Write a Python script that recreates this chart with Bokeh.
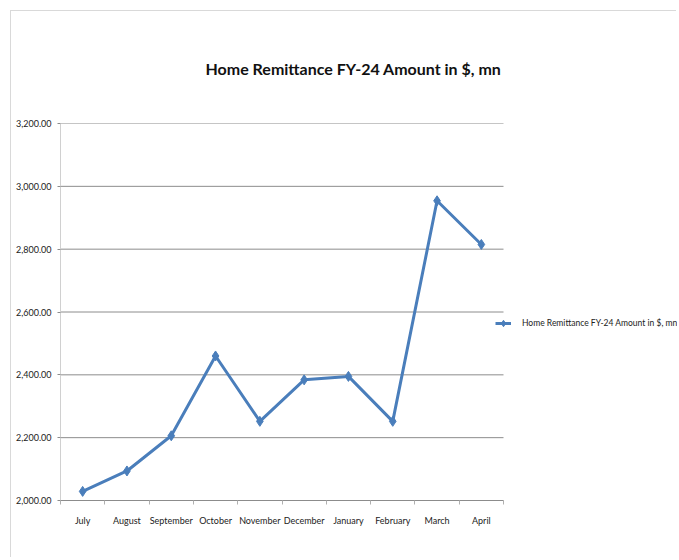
from bokeh.plotting import figure
from bokeh.models import (FixedTicker, NumeralTickFormatter, Range1d, Legend, LegendItem,
                          ColumnDataSource)
from bokeh.embed import file_html
from bokeh.resources import INLINE
import numpy as np

months = ["July", "August", "September", "October", "November", "December",
          "January", "February", "March", "April"]
amounts = [2029, 2094, 2206, 2460, 2252, 2384, 2395, 2252, 2954, 2815]
y_ticks = [2000, 2200, 2400, 2600, 2800, 3000, 3200]
series_name = "Home Remittance FY-24 Amount in $, mn"
title_text = "Home Remittance FY-24 Amount in $, mn"

FONT = "Lato"
n = len(months)
# plot area spans the categories plus room on the right for the legend
x_end = n * 617 / 443

xpos = np.arange(n) + 0.5
src = ColumnDataSource(dict(x=xpos, y=amounts, m=months))

p = figure(width=666, height=547, output_backend="svg", toolbar_location=None,
           x_range=Range1d(0, x_end), y_range=Range1d(y_ticks[0], y_ticks[-1]),
           min_border_left=49, min_border_right=0, min_border_top=111, min_border_bottom=58)
p.margin = (10, 0, 0, 10)
p.styles = {"border-top": "1px solid #d9d9d9", "border-left": "1px solid #d9d9d9"}
p.outline_line_color = None
p.background_fill_color = "white"
p.border_fill_color = "white"

p.title.text = title_text
p.title.text_font = FONT
p.title.text_font_size = "16px"
p.title.text_font_style = "bold"
p.title.text_color = "#111111"
p.title.align = "left"
p.title.offset = 145
p.title.standoff = 91

# gridlines limited to the category area
p.ygrid.grid_line_color = None
p.xgrid.grid_line_color = None
p.segment(x0=0, x1=n, y0=y_ticks, y1=y_ticks, line_color="#8c8c8c", line_width=1)

# x axis
p.xaxis.bounds = (0, n)
p.xaxis.ticker = FixedTicker(ticks=list(xpos), minor_ticks=list(range(n + 1)))
p.xaxis.major_label_overrides = {float(x): m for x, m in zip(xpos, months)}
p.xaxis.major_tick_line_color = None
p.xaxis.minor_tick_in = 0
p.xaxis.minor_tick_out = 4
p.xaxis.minor_tick_line_color = "#b0b0b0"
p.xaxis.axis_line_color = "#8c8c8c"
p.xaxis.major_label_text_font = FONT
p.xaxis.major_label_text_font_size = "9px"
p.xaxis.major_label_text_color = "#222222"
p.xaxis.major_label_standoff = 8

# y axis
p.yaxis.ticker = FixedTicker(ticks=y_ticks)
p.yaxis.formatter = NumeralTickFormatter(format="0,0.00")
p.yaxis.minor_tick_line_color = None
p.yaxis.major_tick_in = 0
p.yaxis.major_tick_out = 3
p.yaxis.major_tick_line_color = "#8c8c8c"
p.yaxis.axis_line_color = "#d0d0d0"
p.yaxis.major_label_text_font = FONT
p.yaxis.major_label_text_font_size = "9px"
p.yaxis.major_label_text_color = "#222222"
p.yaxis.major_label_standoff = 6

line = p.line("x", "y", source=src, line_color="#4a7ebb", line_width=3)
pts = p.scatter("x", "y", source=src, marker="diamond", size=10,
                fill_color="#4a7ebb", line_color="#4a7ebb")

legend = Legend(items=[LegendItem(label=series_name, renderers=[line, pts])],
                location=(435, 167), orientation="vertical",
                label_text_font=FONT, label_text_font_size="8.5px",
                label_text_color="#222222", border_line_color=None,
                background_fill_alpha=0, glyph_width=16, label_standoff=11,
                padding=2, margin=0)
p.add_layout(legend, "center")

open("out.html", "w").write(file_html(p, INLINE))
